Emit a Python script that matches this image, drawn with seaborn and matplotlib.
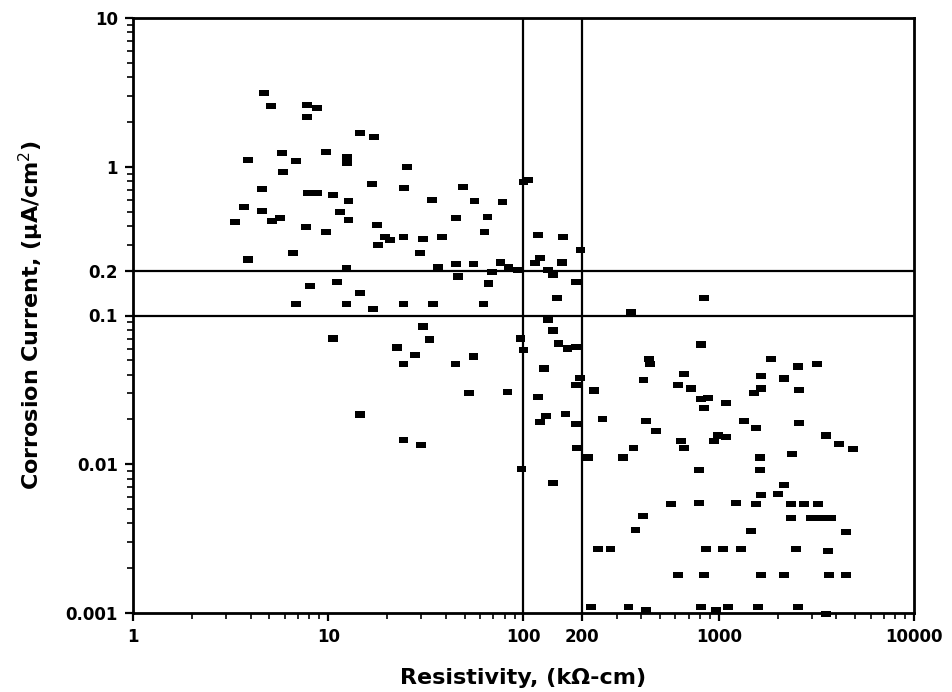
import matplotlib
matplotlib.use("Agg")
import matplotlib.pyplot as plt
import seaborn as sns
import pandas as pd
from matplotlib.ticker import LogLocator, NullFormatter

# === Settings ===
sns.set_style("ticks")
plt.rcParams['font.family'] = ['DejaVu Sans']
plt.rcParams.update({"text.color": "black", "axes.labelcolor": "black",
                     "xtick.color": "black", "ytick.color": "black"})

# === Data ===
# resistivity in kOhm-cm, corrosion current in uA/cm2
resistivity = [
    4.70, 5.10, 7.80, 8.78, 7.80, 3.89, 5.81, 6.85, 5.88, 9.77,
    12.5, 12.5, 14.6, 17.2, 25.4, 4.59, 3.71, 3.34, 4.59, 5.16,
    5.67, 7.89, 8.78, 10.6, 12.7, 16.8, 24.5, 34.1, 49.2, 56.1,
    78.0, 100, 105, 7.71, 9.77, 11.5, 12.7, 17.8, 19.6, 18.0,
    20.8, 24.3, 30.7, 38.4, 45.3, 65.4, 63.1, 119, 3.89, 6.62,
    29.6, 36.6, 45.3, 55.4, 76.2, 83.8, 93.2, 69.3, 46.4, 12.4,
    8.09, 11.1, 14.6, 17.0, 6.85, 12.4, 24.3, 34.5, 62.4, 66.2,
    30.7, 160, 196, 122, 115, 133, 141, 158, 185, 149,
    133, 141, 33.0, 10.6, 22.6, 27.9, 24.3, 44.8, 55.4, 96.5,
    100, 127, 151, 168, 185, 194, 185, 229, 52.8, 82.8,
    119, 130, 121, 164, 185, 254, 187, 215, 322, 14.6,
    24.3, 30.0, 97.7, 141,
]
current = [
    3.13, 2.56, 2.60, 2.48, 2.15, 1.11, 1.23, 1.09, 0.918, 1.25,
    1.16, 1.06, 1.68, 1.58, 1.00, 0.705, 0.534, 0.423, 0.501, 0.430,
    0.450, 0.663, 0.663, 0.643, 0.586, 0.762, 0.717, 0.595, 0.728, 0.586,
    0.577, 0.787, 0.811, 0.391, 0.362, 0.494, 0.436, 0.404, 0.335, 0.296,
    0.320, 0.335, 0.325, 0.335, 0.450, 0.457, 0.362, 0.346, 0.238, 0.262,
    0.262, 0.211, 0.221, 0.221, 0.227, 0.211, 0.201, 0.195, 0.183, 0.207,
    0.157, 0.167, 0.141, 0.110, 0.120, 0.119, 0.120, 0.120, 0.120, 0.164,
    0.0843, 0.335, 0.274, 0.242, 0.224, 0.201, 0.186, 0.227, 0.169, 0.132,
    0.094, 0.0793, 0.0690, 0.070, 0.0609, 0.0546, 0.0475, 0.0475, 0.0530, 0.070,
    0.059, 0.044, 0.0648, 0.060, 0.0618, 0.0382, 0.0343, 0.0313, 0.0303, 0.0308,
    0.0285, 0.0212, 0.0193, 0.0219, 0.0187, 0.0202, 0.0129, 0.0111, 0.0111, 0.0216,
    0.0146, 0.0135, 0.00933, 0.0075,
]
# high-resistivity group (right of the 200 line)
resistivity_high = [
    838, 354, 809, 438, 446, 412, 662, 617, 718, 809,
    879, 838, 1086, 1849, 1642, 1512, 1642, 2154, 2541, 3183,
    2570, 422, 475, 638, 662, 943, 988, 1086, 1343, 1549,
    2570, 3539, 4123, 4866, 366, 789, 1623, 1623, 2367, 408,
    375, 567, 789, 1222, 1549, 1642, 2009, 2154, 2340, 2729,
    3220, 2340, 2965, 3336, 3752, 4479, 1459, 240, 279, 858,
    1049, 1297, 2483, 3623, 617, 838, 1642, 2154, 3664, 4479,
    221, 345, 422, 809, 966, 1112, 1585, 2541, 3539,
]
current_high = [
    0.132, 0.105, 0.0638, 0.0513, 0.0475, 0.0371, 0.0407, 0.0343, 0.0323, 0.0276,
    0.0280, 0.024, 0.0259, 0.0513, 0.0394, 0.0303, 0.0323, 0.0377, 0.0454, 0.0475,
    0.0317, 0.0196, 0.0168, 0.0144, 0.0129, 0.0144, 0.0156, 0.0153, 0.0196, 0.0176,
    0.0190, 0.0156, 0.0137, 0.0127, 0.0129, 0.00918, 0.0111, 0.00918, 0.0118, 0.0045,
    0.00362, 0.00542, 0.0055, 0.0055, 0.0054, 0.00623, 0.0063, 0.00728, 0.0054, 0.0054,
    0.0054, 0.00436, 0.00436, 0.00436, 0.00436, 0.00351, 0.00356, 0.0027, 0.0027, 0.0027,
    0.0027, 0.0027, 0.0027, 0.0026, 0.0018, 0.0018, 0.0018, 0.0018, 0.0018, 0.0018,
    0.0011, 0.0011, 0.00105, 0.0011, 0.00105, 0.0011, 0.0011, 0.0011, 0.00098,
]

x_ticks = [1, 10, 100, 200, 1000, 10000]
x_ticklabels = ["1", "10", "100", "200", "1000", "10000"]
y_ticks = [0.001, 0.01, 0.1, 0.2, 1, 10]
y_ticklabels = ["0.001", "0.01", "0.1", "0.2", "1", "10"]
resistivity_limits = [100, 200]
current_limits = [0.1, 0.2]

df = pd.DataFrame({
    "resistivity": resistivity + resistivity_high,
    "current": current + current_high,
})

# === Plot ===
fig = plt.figure(figsize=(9.53, 6.92), dpi=100)
ax = fig.add_axes([133 / 953, 79 / 692, 781 / 953, 595 / 692])

# flat rectangular marker like the scanned points
rect = [(-1, -0.62), (1, -0.62), (1, 0.62), (-1, 0.62), (-1, -0.62)]
sns.scatterplot(data=df, x="resistivity", y="current", ax=ax, marker=rect,
                s=50, color="black", edgecolor="none", linewidth=0,
                clip_on=False, zorder=3)

for xv in resistivity_limits:
    ax.axvline(xv, color="black", linewidth=1.6, zorder=2)
for yv in current_limits:
    ax.axhline(yv, color="black", linewidth=1.6, zorder=2)

ax.set_xscale("log")
ax.set_yscale("log")
ax.set_xlim(1, 10000)
ax.set_ylim(0.001, 10)

ax.set_xticks(x_ticks)
ax.set_xticklabels(x_ticklabels)
ax.set_yticks(y_ticks)
ax.set_yticklabels(y_ticklabels)
ax.xaxis.set_minor_locator(LogLocator(base=10, subs=range(2, 10)))
ax.yaxis.set_minor_locator(LogLocator(base=10, subs=range(2, 10)))
ax.xaxis.set_minor_formatter(NullFormatter())
ax.yaxis.set_minor_formatter(NullFormatter())
ax.tick_params(which="major", direction="out", length=6, width=1.6,
               labelsize=12, pad=5, colors="black")
ax.tick_params(which="minor", direction="out", length=4, width=1.2,
               colors="black")
for lab in ax.get_xticklabels() + ax.get_yticklabels():
    lab.set_fontweight("bold")

for sp in ax.spines.values():
    sp.set_visible(True)
    sp.set_linewidth(2)
    sp.set_color("black")

ax.set_xlabel("Resistivity, (kΩ-cm)", fontsize=16, fontweight="bold",
              labelpad=16, color="black")
ax.set_ylabel("Corrosion Current, (µA/cm$^2$)", fontsize=16, fontweight="bold",
              labelpad=14, color="black")

fig.savefig("out.png", dpi=100)
plt.close(fig)
print("Plot saved.")
